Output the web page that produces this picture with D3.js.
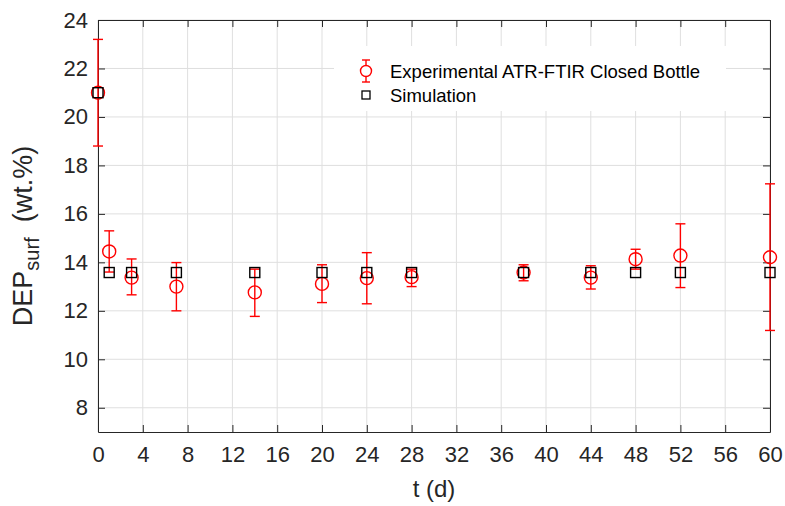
<!DOCTYPE html>
<html>
<head>
<meta charset="utf-8">
<script src="https://cdn.jsdelivr.net/npm/d3@7"></script>
<style>
  body { margin: 0; background: #fff; }
  svg { display: block; font-family: "Liberation Sans", Arial, sans-serif; }
  .grid line { stroke: #dfdfdf; stroke-width: 1; }
  .axis path, .axis line { stroke: #262626; }
  .axis text { fill: #262626; font-size: 22px; }
</style>
</head>
<body>
<div id="chart"></div>
<script>
// Experimental ATR-FTIR closed bottle: time (d), mean, lower and upper error bounds (wt.%)
const expDays  = [0, 1, 3, 7, 14, 20, 24, 28, 38, 44, 48, 52, 60];
const expValue = [21.0, 14.45, 13.37, 13.0, 12.76, 13.11, 13.35, 13.39, 13.58, 13.37, 14.13, 14.28, 14.21];
const expLow   = [18.8, 13.6, 12.66, 12.0, 11.77, 12.34, 12.29, 13.0, 13.24, 12.9, 13.72, 12.96, 11.19];
const expHigh  = [23.2, 15.3, 14.14, 13.99, 13.72, 13.9, 14.4, 13.72, 13.9, 13.86, 14.54, 15.59, 17.24];

// Simulation
const simDays  = [0, 1, 3, 7, 14, 20, 24, 28, 38, 44, 48, 52, 60];
const simValue = [21.0, 13.58, 13.58, 13.58, 13.58, 13.58, 13.58, 13.58, 13.58, 13.58, 13.58, 13.58, 13.58];

const xTicks = d3.range(0, 61, 4);
const yTicks = d3.range(8, 25, 2);

const width = 785, height = 506;
const margin = { top: 20, right: 15, bottom: 74, left: 98 };
const innerW = width - margin.left - margin.right;
const innerH = height - margin.top - margin.bottom;
const red = "#ff0000";

const svg = d3.select("#chart").append("svg")
  .attr("width", width).attr("height", height);
const g = svg.append("g").attr("transform", `translate(${margin.left},${margin.top})`);

const x = d3.scaleLinear().domain([0, 60]).range([0, innerW]);
const y = d3.scaleLinear().domain([7, 24]).range([innerH, 0]);

// grid
const grid = g.append("g").attr("class", "grid");
grid.selectAll("line.v").data(xTicks).join("line")
  .attr("x1", d => x(d)).attr("x2", d => x(d)).attr("y1", 0).attr("y2", innerH);
grid.selectAll("line.h").data(yTicks).join("line")
  .attr("x1", 0).attr("x2", innerW).attr("y1", d => y(d)).attr("y2", d => y(d));

// axes, ticks pointing inward on all four sides
const tickLen = 7;
g.append("g").attr("class", "axis").attr("transform", `translate(0,${innerH})`)
  .call(d3.axisBottom(x).tickValues(xTicks).tickSizeInner(-tickLen).tickSizeOuter(0).tickPadding(14))
  .call(a => a.selectAll("text").attr("dy", "0.71em"));
g.append("g").attr("class", "axis")
  .call(d3.axisLeft(y).tickValues(yTicks).tickSizeInner(-tickLen).tickSizeOuter(0).tickPadding(10));
g.append("g").attr("class", "axis")
  .call(d3.axisTop(x).tickValues(xTicks).tickSizeInner(-tickLen).tickSizeOuter(0).tickFormat(""));
g.append("g").attr("class", "axis").attr("transform", `translate(${innerW},0)`)
  .call(d3.axisRight(y).tickValues(yTicks).tickSizeInner(-tickLen).tickSizeOuter(0).tickFormat(""));

// legend background (drawn over the grid)
const legend = g.append("g").attr("transform", `translate(${236},${26})`);
legend.append("rect").attr("x", 0).attr("y", 0).attr("width", 392).attr("height", 65).attr("fill", "#fff");

// error bars
const capW = 5;
const eb = g.append("g").attr("stroke", red).attr("stroke-width", 1.4).attr("fill", "none");
expDays.forEach((d, i) => {
  const cx = x(d);
  eb.append("line").attr("x1", cx).attr("x2", cx).attr("y1", y(expLow[i])).attr("y2", y(expHigh[i]));
  eb.append("line").attr("x1", cx - capW).attr("x2", cx + capW).attr("y1", y(expLow[i])).attr("y2", y(expLow[i]));
  eb.append("line").attr("x1", cx - capW).attr("x2", cx + capW).attr("y1", y(expHigh[i])).attr("y2", y(expHigh[i]));
});
g.append("g").selectAll("circle").data(expDays).join("circle")
  .attr("cx", d => x(d)).attr("cy", (d, i) => y(expValue[i])).attr("r", 6.5)
  .attr("fill", "none").attr("stroke", red).attr("stroke-width", 1.4);

// simulation squares
const sq = 10;
g.append("g").selectAll("rect").data(simDays).join("rect")
  .attr("x", d => x(d) - sq / 2).attr("y", (d, i) => y(simValue[i]) - sq / 2)
  .attr("width", sq).attr("height", sq)
  .attr("fill", "none").attr("stroke", "#000").attr("stroke-width", 1.4);

// legend content
legend.append("line").attr("x1", 32).attr("x2", 32).attr("y1", 14).attr("y2", 36)
  .attr("stroke", red).attr("stroke-width", 1.4);
legend.append("line").attr("x1", 28).attr("x2", 36).attr("y1", 14).attr("y2", 14).attr("stroke", red).attr("stroke-width", 1.4);
legend.append("line").attr("x1", 28).attr("x2", 36).attr("y1", 36).attr("y2", 36).attr("stroke", red).attr("stroke-width", 1.4);
legend.append("circle").attr("cx", 32).attr("cy", 25).attr("r", 5.5)
  .attr("fill", "#fff").attr("stroke", red).attr("stroke-width", 1.4);
legend.append("rect").attr("x", 28).attr("y", 45).attr("width", 8).attr("height", 8)
  .attr("fill", "none").attr("stroke", "#000").attr("stroke-width", 1.3);
legend.append("text").attr("x", 56).attr("y", 31.5).attr("font-size", 18.5).attr("fill", "#000")
  .text("Experimental ATR-FTIR Closed Bottle");
legend.append("text").attr("x", 56).attr("y", 56).attr("font-size", 18.5).attr("fill", "#000")
  .text("Simulation");

// axis labels
svg.append("text").attr("x", margin.left + innerW / 2).attr("y", 497)
  .attr("text-anchor", "middle").attr("font-size", 24).attr("fill", "#262626").text("t (d)");

const yl = svg.append("text").attr("transform", `translate(32,${236}) rotate(-90)`)
  .attr("text-anchor", "middle").attr("font-size", 27).attr("fill", "#262626");
yl.append("tspan").text("DEP");
yl.append("tspan").attr("font-size", 20).attr("dy", 7).text("surf");
yl.append("tspan").attr("dy", -7).text("\u00a0 (wt.%)");
</script>
</body>
</html>
